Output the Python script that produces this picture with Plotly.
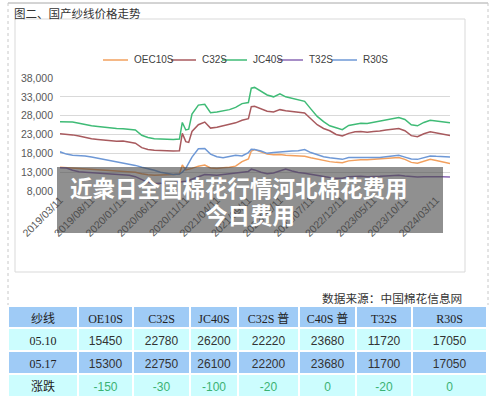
import plotly.graph_objects as go

dates = [
    "2019-03-11", "2019-04-11", "2019-05-11", "2019-06-11", "2019-07-11", "2019-08-11", "2019-09-11", "2019-10-11", "2019-11-11", "2019-12-11",
    "2020-01-11", "2020-02-11", "2020-03-11", "2020-04-11", "2020-05-11", "2020-06-11", "2020-07-11", "2020-08-11", "2020-09-11", "2020-10-11", "2020-10-25",
    "2020-11-11", "2020-11-25", "2020-12-11",
    "2021-01-11", "2021-02-11", "2021-03-11", "2021-04-11", "2021-05-11", "2021-06-11", "2021-07-11", "2021-08-11", "2021-09-11", "2021-09-25", "2021-10-11", "2021-11-11", "2021-12-11",
    "2022-01-11", "2022-02-11", "2022-03-11", "2022-04-11", "2022-05-11", "2022-06-11", "2022-07-11", "2022-08-11", "2022-09-11", "2022-10-11", "2022-11-11", "2022-12-11",
    "2023-01-11", "2023-02-11", "2023-03-11", "2023-04-11", "2023-05-11", "2023-06-11", "2023-07-11", "2023-08-11", "2023-09-11", "2023-10-11", "2023-11-11", "2023-12-11",
    "2024-01-11", "2024-02-11", "2024-03-11", "2024-04-11", "2024-05-10", "2024-05-17",
]

oec10s = [
    14300, 14200, 14000, 13900, 13800, 13700, 13600, 13500, 13400, 13400,
    13300, 13200, 13000, 12600, 12300, 12200, 12200, 12300, 12400, 12500, 14900,
    13600, 13700, 14000,
    14600, 14900, 14100, 14000, 14200, 14300, 14600, 15800, 16500, 18600, 19000, 18300, 17800,
    17600, 17700, 17500, 17400, 17300, 17200, 16800, 16400, 16000, 15800, 15600, 15500,
    16000, 16200, 16300, 16300, 16400, 16400, 16600, 16800, 16900, 16400, 15600, 15400,
    16000, 16400, 16100, 15800, 15450, 15300,
]
c32s = [
    23200, 23100, 22900, 22600, 22200, 21900, 21700, 21500, 21300, 21200,
    21300, 21000, 20700, 19500, 19000, 18800, 18700, 18600, 18600, 18700, 23300,
    21100, 20900, 23800,
    25600, 26300, 24700, 24900, 25200, 25700, 26100, 26800, 27200, 30400, 30500, 29800, 29200,
    29000, 29600, 29300, 29100, 29000, 28700, 27200, 25600, 24600, 24000, 23000, 22600,
    23300, 23700, 23800, 23600, 23800, 23900, 24200, 24500, 24600, 24000, 22700, 22400,
    23200, 23700, 23400, 23000, 22780, 22750,
]
jc40s = [
    26400, 26400, 26300, 26000, 25600, 25300, 25100, 24900, 24700, 24600,
    24500, 24300, 24200, 22800, 22200, 21900, 21800, 21700, 21700, 21800, 26200,
    24200, 24400, 28400,
    30800, 31000, 28800, 29000, 29200, 29600, 30200, 31200, 31500, 35300, 35500, 34500, 33500,
    33000, 33800, 33000, 32600, 32400, 31800, 29800, 27800, 26400, 25300, 24800, 24300,
    25400, 25800, 26000, 25900, 26200, 26500, 26800, 27200, 27500, 27000, 25600, 25300,
    26200, 26800, 26600, 26300, 26200, 26100,
]
t32s = [
    14200, 14100, 13500, 13100, 13000, 12900, 12800, 12600, 12500, 12400,
    12300, 12200, 11800, 11000, 10300, 10000, 10000, 10100, 10200, 10300, 10500,
    10600, 10800, 11200,
    11800, 12400, 12300, 12200, 12400, 12600, 12800, 12900, 13200, 13800, 13600, 13000, 12600,
    12800, 13400, 13800, 13300, 12900, 12700, 12400, 12100, 11800, 11600, 11400, 11400,
    11800, 11900, 11900, 11800, 11800, 11900, 12000, 12100, 12200, 12000, 11800, 11700,
    11800, 11900, 11800, 11800, 11720, 11700,
]
r30s = [
    18400, 17800, 17500, 17400, 17300, 17000, 16700, 16400, 16000, 15700,
    15400, 15200, 14800, 14300, 14000, 13500, 13000, 12600, 12400, 12500, 13000,
    14000, 15500, 17000,
    19200, 19300, 17800, 17100, 16800, 17200, 17500, 17300, 18200, 19100, 19000, 18600, 18000,
    18200, 18400, 18500, 18600, 18700, 19000, 18200, 17600, 17100, 16800, 16500, 16400,
    16900, 16900, 16800, 16800, 16800, 16900, 17100, 17300, 17500, 17000, 16500, 16400,
    16900, 17300, 17200, 17100, 17050, 17050,
]

series_names = ["OEC10S", "C32S", "JC40S", "T32S", "R30S"]
series_values = [oec10s, c32s, jc40s, t32s, r30s]
series_colors = ["#F2A05E", "#A85A5E", "#3FBB76", "#8A68B4", "#6E98D6"]

x_tick_vals = ["2019-03-11", "2019-08-11", "2020-01-11", "2020-06-11", "2020-11-11", "2021-04-11",
               "2021-09-11", "2022-02-11", "2022-07-11", "2022-12-11", "2023-05-11", "2023-10-11", "2024-03-11"]
x_tick_text = ["2019/03/11", "2019/08/11", "2020/01/11", "2020/06/11", "2020/11/11", "2021/04/11",
               "2021/09/11", "2022/02/11", "2022/07/11", "2022/12/11", "2023/05/11", "2023/10/11", "2024/03/11"]
y_tick_vals = [8000, 13000, 18000, 23000, 28000, 33000, 38000]

# table data
table_header = ["纱线", "OE10S", "C32S", "JC40S", "C32S\u00a0普", "C40S\u00a0普", "T32S", "R30S"]
row_labels = ["05.10", "05.17", "涨跌"]
price_0510 = [15450, 22780, 26200, 22220, 23680, 11720, 17050]
price_0517 = [15300, 22750, 26100, 22200, 23680, 11700, 17050]
change = [-150, -30, -100, -20, 0, -20, 0]

W, H = 500, 402
def px(x):
    return x / W
def py(y):
    return 1 - y / H

fig = go.Figure()
for name, vals, col in zip(series_names, series_values, series_colors):
    fig.add_trace(go.Scatter(x=dates, y=vals, mode="lines", name=name, showlegend=False,
                             line=dict(color=col, width=1.5), xaxis="x", yaxis="y"))

# table
cols = [row_labels]
for a, b, c in zip(price_0510, price_0517, change):
    cols.append([str(a), str(b), str(c)])
row_fill = ["#CCFDFE", "#9FCBF6", "#CCFDFE"]
fills = [row_fill for _ in cols]
font_colors = [["#222222", "#222222", "#222222"]] + [["#333333", "#333333", "#3BB273"] for _ in cols[1:]]
font_fams = ["Liberation Serif, Noto Sans CJK SC"] + ["Liberation Sans" for _ in cols[1:]]
fig.add_trace(go.Table(
    domain=dict(x=[px(8), px(487)], y=[0, py(306)]),
    columnwidth=[70, 55, 57, 48, 61, 57, 56, 75],
    header=dict(values=table_header, fill_color="#9FCBF6", height=22, align="center",
                line=dict(color="white", width=1.5),
                font=dict(family="Liberation Serif, Noto Sans CJK SC", size=12, color="#222222")),
    cells=dict(values=cols, fill_color=fills, height=23, align="center",
               line=dict(color="white", width=1.5),
               font=dict(family=font_fams, size=12, color=font_colors)),
))

shapes = [
    # outer frame
    dict(type="line", xref="paper", yref="paper", x0=px(8), x1=px(488), y0=py(3), y1=py(3),
         line=dict(color="#A8A8A8", width=1), layer="below"),
    dict(type="line", xref="paper", yref="paper", x0=px(8), x1=px(8), y0=py(3), y1=py(305),
         line=dict(color="#C8C8C8", width=1, dash="dot"), layer="below"),
    dict(type="line", xref="paper", yref="paper", x0=px(488), x1=px(488), y0=py(3), y1=py(305),
         line=dict(color="#C8C8C8", width=1, dash="dot"), layer="below"),
    # inner chart area
    dict(type="rect", xref="paper", yref="paper", x0=px(15), x1=px(465), y0=py(272), y1=py(19),
         line=dict(color="#D9D9D9", width=1), fillcolor="rgba(0,0,0,0)", layer="below"),
    # overlay band
    dict(type="rect", xref="paper", yref="paper", x0=px(57), x1=px(443), y0=py(233), y1=py(167),
         line=dict(width=0), fillcolor="rgba(70,70,70,0.6)", layer="above"),
]

annotations = [
    dict(text="图二、国产纱线价格走势", xref="paper", yref="paper", x=px(12), y=py(13),
         xanchor="left", yanchor="middle", showarrow=False,
         font=dict(family="Noto Sans CJK SC", size=11.5, color="#333333")),
    dict(text="数据来源：中国棉花信息网", xref="paper", yref="paper", x=px(464), y=py(297),
         xanchor="right", yanchor="middle", showarrow=False,
         font=dict(family="Noto Sans CJK SC", size=11.7, color="#333333")),
    dict(text="<b>近衆日全国棉花行情河北棉花费用</b>", xref="paper", yref="paper", x=px(238.5), y=py(187),
         xanchor="center", yanchor="middle", showarrow=False,
         font=dict(family="Noto Sans CJK SC", size=22.5, color="white")),
    dict(text="<b>今日费用</b>", xref="paper", yref="paper", x=px(250), y=py(214),
         xanchor="center", yanchor="middle", showarrow=False,
         font=dict(family="Noto Sans CJK SC", size=22.5, color="white")),
]

# legend (Excel-style compact row: short line swatch followed by the series name)
legend_left = [103, 171, 222, 278, 332]
legend_y = 60
for name, col, lx in zip(series_names, series_colors, legend_left):
    shapes.append(dict(type="line", xref="paper", yref="paper", x0=px(lx), x1=px(lx + 25),
                       y0=py(legend_y), y1=py(legend_y), line=dict(color=col, width=1.5)))
    annotations.append(dict(text=name, xref="paper", yref="paper", x=px(lx + 29), y=py(legend_y),
                            xanchor="left", yanchor="middle", showarrow=False,
                            font=dict(family="Liberation Sans", size=10, color="#404040")))

fig.update_layout(
    width=W, height=H,
    margin=dict(l=0, r=0, t=0, b=0, pad=0, autoexpand=False),
    paper_bgcolor="white", plot_bgcolor="white",
    showlegend=False,
    xaxis=dict(domain=[px(60), px(450)], type="date", range=["2019-03-11", "2024-05-17"],
               tickvals=x_tick_vals, ticktext=x_tick_text, tickangle=-45, automargin=False,
               tickfont=dict(family="Liberation Sans", size=10.5, color="#595959"),
               showgrid=False, zeroline=False, showline=False, ticks=""),
    yaxis=dict(domain=[py(191), py(78)], range=[8000, 38000], tickvals=y_tick_vals, automargin=False,
               tickformat=",", tickfont=dict(family="Liberation Sans", size=10.5, color="#595959"),
               showgrid=True, gridcolor="#D9D9D9", gridwidth=1, zeroline=False, showline=False,
               ticks="", ticklabelstandoff=6),
    shapes=shapes,
    annotations=annotations,
)

fig.write_html("out.html", config={"displayModeBar": False},
               post_script="document.body.style.margin='0';document.body.style.overflow='hidden';")
